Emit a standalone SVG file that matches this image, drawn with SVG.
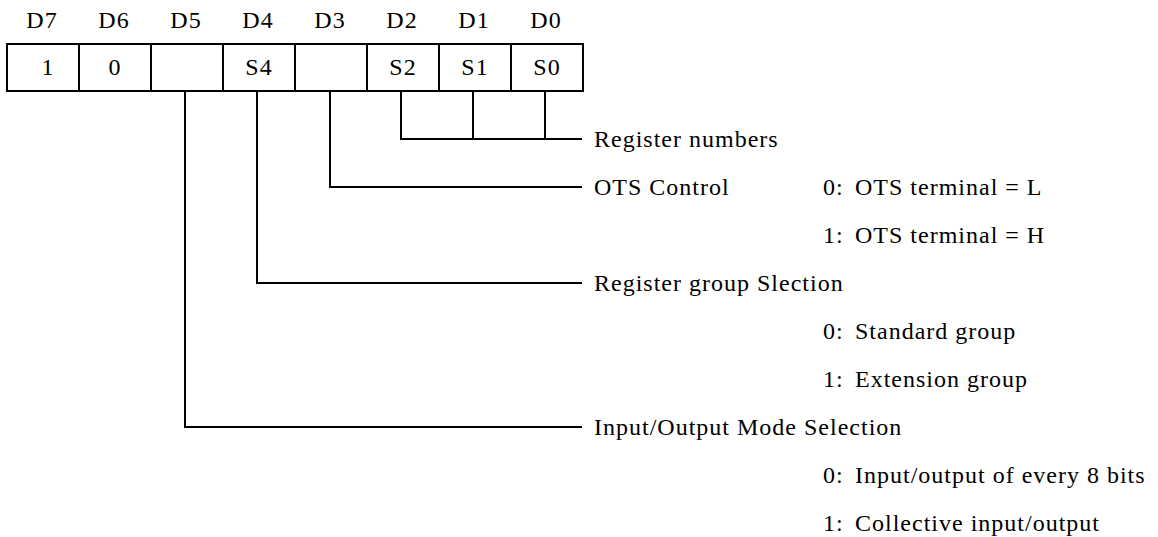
<svg xmlns="http://www.w3.org/2000/svg" width="1158" height="537" viewBox="0 0 1158 537">
<style>
text{font-family:"Liberation Serif","Times New Roman",serif;font-size:24px;fill:#000;letter-spacing:1px}
.c{text-anchor:middle}
.ln{fill:none;stroke:#000;stroke-width:2}
</style>
<rect width="1158" height="537" fill="#fff"/>
<g id="header">
<text class="c" x="42" y="28">D7</text>
<text class="c" x="114" y="28">D6</text>
<text class="c" x="186" y="28">D5</text>
<text class="c" x="258" y="28">D4</text>
<text class="c" x="330" y="28">D3</text>
<text class="c" x="402" y="28">D2</text>
<text class="c" x="474" y="28">D1</text>
<text class="c" x="546" y="28">D0</text>
</g>
<g id="register">
<rect class="ln" x="7" y="44" width="576" height="47"/>
<path class="ln" d="M79 44V91M151 44V91M223 44V91M295 44V91M367 44V91M439 44V91M511 44V91"/>
<text class="c" x="48" y="75">1</text>
<text class="c" x="115" y="75">0</text>
<text class="c" x="259" y="75">S4</text>
<text class="c" x="403" y="75">S2</text>
<text class="c" x="475" y="75">S1</text>
<text class="c" x="547" y="75">S0</text>
</g>
<g id="connectors">
<path class="ln" d="M401 91V139H582M473 91V139M545 91V139"/>
<path class="ln" d="M330 91V187H582"/>
<path class="ln" d="M257 91V283H582"/>
<path class="ln" d="M185 91V427H582"/>
</g>
<g id="reg-numbers">
<text x="594" y="147">Register numbers</text>
</g>
<g id="ots-control">
<text x="594" y="195">OTS Control</text>
<text x="823" y="195">0:</text><text x="855" y="195">OTS terminal = L</text>
<text x="823" y="243">1:</text><text x="855" y="243">OTS terminal = H</text>
</g>
<g id="group-selection">
<text x="594" y="291">Register group Slection</text>
<text x="823" y="339">0:</text><text x="855" y="339">Standard group</text>
<text x="823" y="387">1:</text><text x="855" y="387">Extension group</text>
</g>
<g id="io-mode">
<text x="594" y="435">Input/Output Mode Selection</text>
<text x="823" y="483">0:</text><text x="855" y="483">Input/output of every 8 bits</text>
<text x="823" y="531">1:</text><text x="855" y="531">Collective input/output</text>
</g>
</svg>
